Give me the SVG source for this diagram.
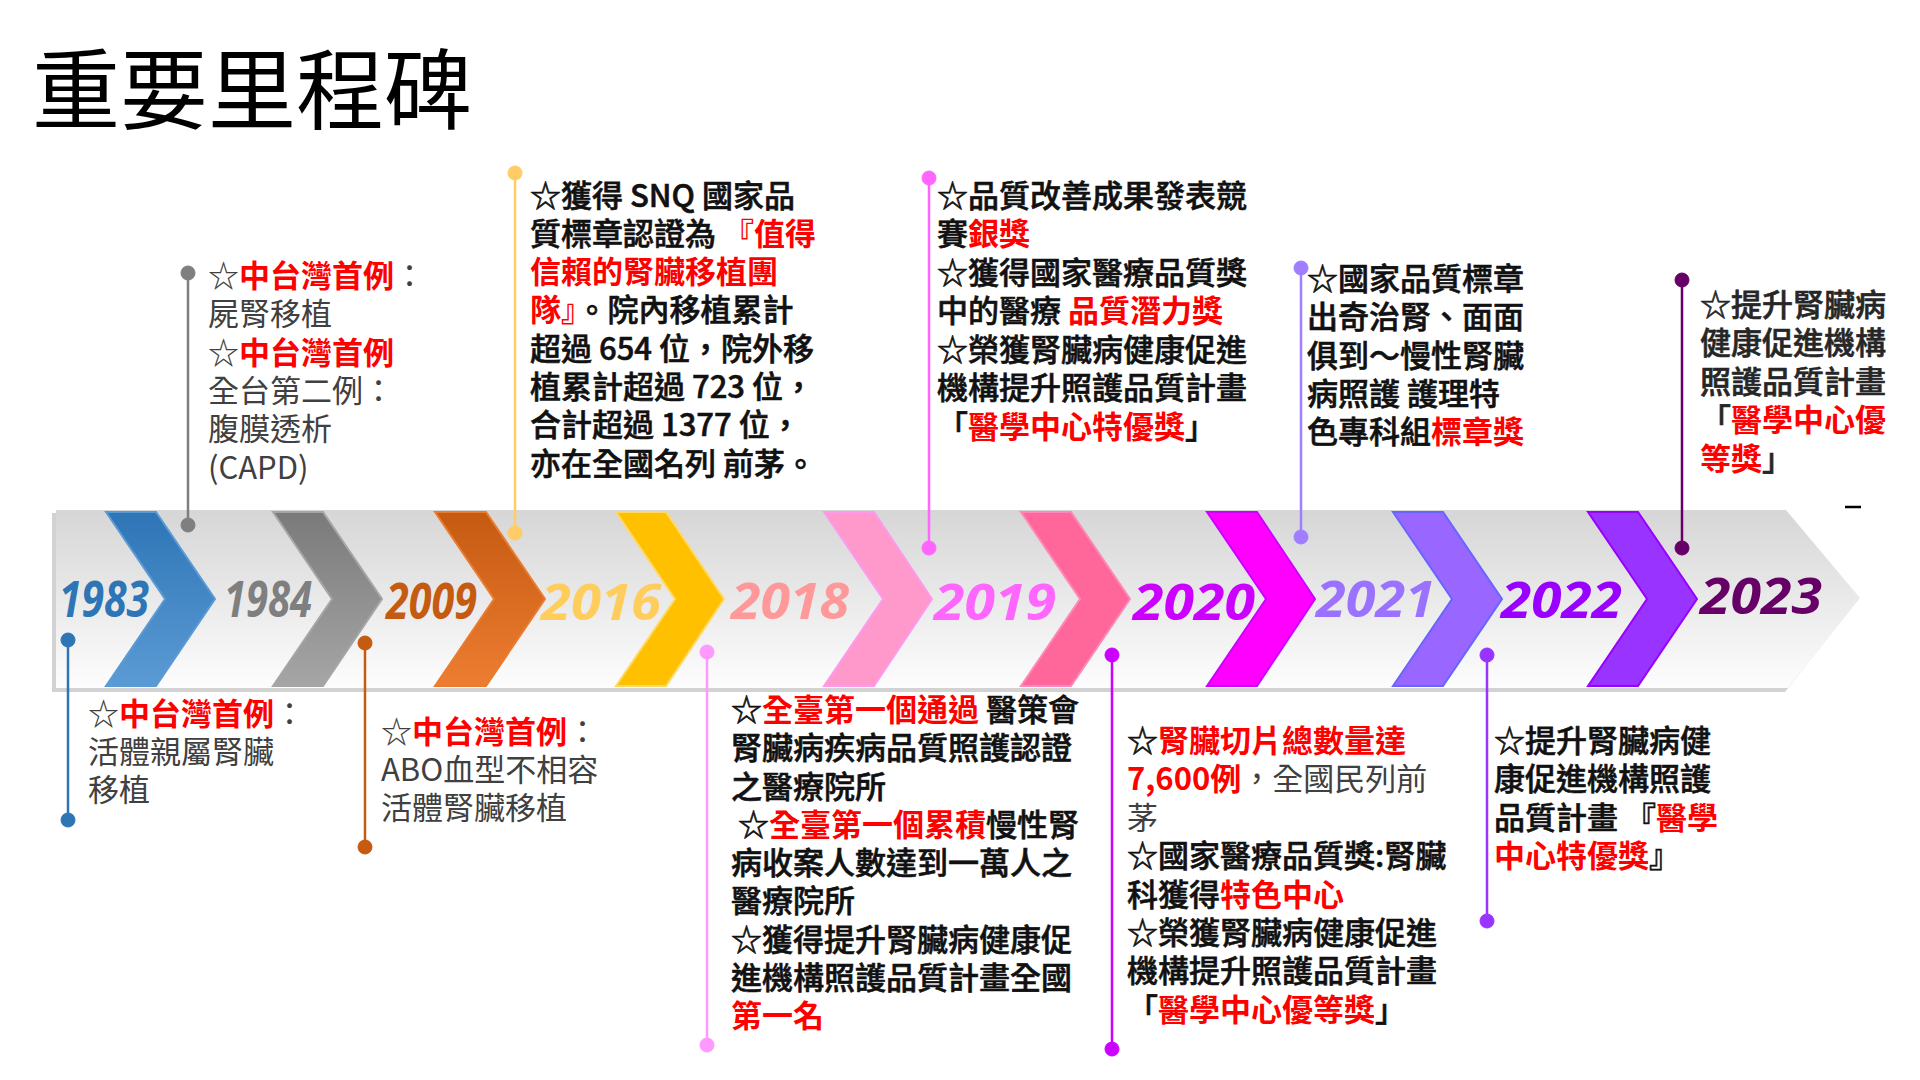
<svg xmlns="http://www.w3.org/2000/svg" width="1920" height="1080" viewBox="0 0 1920 1080" xml:lang="zh-TW">
<defs>
<style>
.title{font-family:"Noto Sans CJK TC","Noto Sans CJK SC",sans-serif;font-size:88px;fill:#000}
.t{font-family:"Noto Sans CJK TC","Noto Sans CJK SC",sans-serif;font-size:31px;fill:#111;font-weight:500;stroke:#111;stroke-width:0.6}
.g{fill:#404040;font-weight:400;stroke:none}
.r{fill:#ff0000;font-weight:700;stroke:none}
.d{fill:#262626;stroke:#262626}
.yr{font-family:"Open Sans","Noto Sans","DejaVu Sans",sans-serif;font-size:50px;font-weight:700;font-style:italic}
.ln{stroke-width:2.5;fill:none}
</style>
<linearGradient id="band" x1="0" y1="0" x2="0" y2="1"><stop offset="0" stop-color="#d6d6d6"/><stop offset="1" stop-color="#fdfdfd"/></linearGradient>
<linearGradient id="cBlue" x1="0" y1="0" x2="0" y2="1"><stop offset="0" stop-color="#2e75b6"/><stop offset="1" stop-color="#5b9bd5"/></linearGradient>
<linearGradient id="cGray" x1="0" y1="0" x2="0" y2="1"><stop offset="0" stop-color="#7a7a7a"/><stop offset="1" stop-color="#a6a6a6"/></linearGradient>
<linearGradient id="cOrange" x1="0" y1="0" x2="0" y2="1"><stop offset="0" stop-color="#c55a11"/><stop offset="1" stop-color="#ed7d31"/></linearGradient>
</defs>
<rect width="1920" height="1080" fill="#fff"/>
<text class="title" x="32" y="122">重要里程碑</text>

<g id="band">
<polygon points="52,513 1783,513 1857,601 1785,692 52,692" fill="#d2d2d2"/>
<polygon points="56,510 1786,510 1860,598 1788,688 56,688" fill="url(#band)"/>
</g>

<g id="connectors">
<g stroke="#2e75b6" fill="#2e75b6"><line class="ln" x1="68" y1="640" x2="68" y2="820"/><circle cx="68" cy="640" r="7"/><circle cx="68" cy="820" r="7"/></g>
<g stroke="#7f7f7f" fill="#7f7f7f"><line class="ln" x1="188" y1="273" x2="188" y2="525"/><circle cx="188" cy="273" r="7"/><circle cx="188" cy="525" r="7"/></g>
<g stroke="#c55a11" fill="#c55a11"><line class="ln" x1="365" y1="643" x2="365" y2="847"/><circle cx="365" cy="643" r="7"/><circle cx="365" cy="847" r="7"/></g>
<g stroke="#ffcc66" fill="#ffcc66"><line class="ln" x1="515" y1="173" x2="515" y2="533"/><circle cx="515" cy="173" r="7"/><circle cx="515" cy="533" r="7"/></g>
<g stroke="#ff99ff" fill="#ff99ff"><line class="ln" x1="707" y1="652" x2="707" y2="1045"/><circle cx="707" cy="652" r="7"/><circle cx="707" cy="1045" r="7"/></g>
<g stroke="#ff66ff" fill="#ff66ff"><line class="ln" x1="929" y1="178" x2="929" y2="548"/><circle cx="929" cy="178" r="7"/><circle cx="929" cy="548" r="7"/></g>
<g stroke="#cc00ff" fill="#cc00ff"><line class="ln" x1="1112" y1="655" x2="1112" y2="1049"/><circle cx="1112" cy="655" r="7"/><circle cx="1112" cy="1049" r="7"/></g>
<g stroke="#9f7fff" fill="#9f7fff"><line class="ln" x1="1301" y1="268" x2="1301" y2="537"/><circle cx="1301" cy="268" r="7"/><circle cx="1301" cy="537" r="7"/></g>
<g stroke="#9933ff" fill="#9933ff"><line class="ln" x1="1487" y1="655" x2="1487" y2="921"/><circle cx="1487" cy="655" r="7"/><circle cx="1487" cy="921" r="7"/></g>
<g stroke="#660066" fill="#660066"><line class="ln" x1="1682" y1="280" x2="1682" y2="548"/><circle cx="1682" cy="280" r="7"/><circle cx="1682" cy="548" r="7"/></g>
</g>

<g id="m1983">
<text class="yr" x="59" y="617" fill="#2e75b6" font-size="42" textLength="90" lengthAdjust="spacingAndGlyphs">1983</text>
<polygon points="106,512 156,512 215,599 156,686 106,686 165,599" fill="url(#cBlue)" stroke="#5b9bd5" stroke-width="2"/>
<g class="t g">
<text x="88" y="725"><tspan>☆</tspan><tspan class="r">中台灣首例</tspan><tspan>：</tspan></text>
<text x="88" y="763">活體親屬腎臟</text>
<text x="88" y="801">移植</text>
</g>
</g>

<g id="m1984">
<text class="yr" x="224" y="617" fill="#7f7f7f" font-size="42" font-weight="600" textLength="88" lengthAdjust="spacingAndGlyphs">1984</text>
<polygon points="273,512 323,512 382,599 323,686 273,686 332,599" fill="url(#cGray)" stroke="#a6a6a6" stroke-width="2"/>
<g class="t g">
<text x="208" y="287"><tspan>☆</tspan><tspan class="r">中台灣首例</tspan><tspan>：</tspan></text>
<text x="208" y="325">屍腎移植</text>
<text x="208" y="364"><tspan>☆</tspan><tspan class="r">中台灣首例</tspan></text>
<text x="208" y="402">全台第二例：</text>
<text x="208" y="440">腹膜透析</text>
<text x="208" y="479">(CAPD)</text>
</g>
</g>

<g id="m2009">
<text class="yr" x="386" y="619" fill="#c55a11" font-size="42" textLength="91" lengthAdjust="spacingAndGlyphs">2009</text>
<polygon points="435,512 486,512 545,599 486,686 435,686 494,599" fill="url(#cOrange)" stroke="#e97c30" stroke-width="2"/>
<g class="t g">
<text x="381" y="743"><tspan>☆</tspan><tspan class="r">中台灣首例</tspan><tspan>：</tspan></text>
<text x="381" y="781">ABO血型不相容</text>
<text x="381" y="819">活體腎臟移植</text>
</g>
</g>

<g id="m2016">
<text class="yr" x="541" y="620" fill="#ffcd5c" textLength="120" lengthAdjust="spacingAndGlyphs">2016</text>
<polygon points="616,512 666,512 724,599 666,686 616,686 675,599" fill="#ffc000" stroke="#ffd966" stroke-width="2"/>
<g class="t">
<text x="530" y="207">☆獲得 SNQ 國家品</text>
<text x="530" y="245"><tspan>質標章認證為 </tspan><tspan class="r">『值得</tspan></text>
<text x="530" y="283" class="r">信賴的腎臟移植團</text>
<text x="530" y="321"><tspan class="r">隊』</tspan><tspan>。院內移植累計</tspan></text>
<text x="530" y="360">超過 654 位，院外移</text>
<text x="530" y="398">植累計超過 723 位，</text>
<text x="530" y="436">合計超過 1377 位，</text>
<text x="530" y="475">亦在全國名列 前茅。</text>
</g>
</g>

<g id="m2018">
<text class="yr" x="731" y="619" fill="#ff9999" textLength="118" lengthAdjust="spacingAndGlyphs">2018</text>
<polygon points="824,512 874,512 932,599 874,686 824,686 883,599" fill="#ff99cc" stroke="#ff99ee" stroke-width="2"/>
<g class="t">
<text x="731" y="721"><tspan>☆</tspan><tspan class="r">全臺第一個通過</tspan><tspan> 醫策會</tspan></text>
<text x="731" y="759">腎臟病疾病品質照護認證</text>
<text x="731" y="798">之醫療院所</text>
<text x="738" y="836"><tspan>☆</tspan><tspan class="r">全臺第一個累積</tspan><tspan>慢性腎</tspan></text>
<text x="731" y="874">病收案人數達到一萬人之</text>
<text x="731" y="912">醫療院所</text>
<text x="731" y="951">☆獲得提升腎臟病健康促</text>
<text x="731" y="989">進機構照護品質計畫全國</text>
<text x="731" y="1027" class="r">第一名</text>
</g>
</g>

<g id="m2019">
<text class="yr" x="934" y="620" fill="#ff66ff" textLength="122" lengthAdjust="spacingAndGlyphs">2019</text>
<polygon points="1021,512 1071,512 1130,599 1071,686 1021,686 1080,599" fill="#ff6699" stroke="#ff88bb" stroke-width="2"/>
<g class="t">
<text x="937" y="207">☆品質改善成果發表競</text>
<text x="937" y="245"><tspan>賽</tspan><tspan class="r">銀獎</tspan></text>
<text x="937" y="284">☆獲得國家醫療品質獎</text>
<text x="937" y="322"><tspan>中的醫療 </tspan><tspan class="r">品質潛力獎</tspan></text>
<text x="937" y="361">☆榮獲腎臟病健康促進</text>
<text x="937" y="399">機構提升照護品質計畫</text>
<text x="937" y="438"><tspan>「</tspan><tspan class="r">醫學中心特優獎</tspan><tspan>」</tspan></text>
</g>
</g>

<g id="m2020">
<text class="yr" x="1133" y="620" fill="#cc00ff" textLength="122" lengthAdjust="spacingAndGlyphs">2020</text>
<polygon points="1207,512 1257,512 1315,599 1257,686 1207,686 1266,599" fill="#ff00ff" stroke="#cc00ff" stroke-width="2"/>
<g class="t">
<text x="1127" y="752"><tspan>☆</tspan><tspan class="r">腎臟切片總數量達</tspan></text>
<text x="1127" y="790"><tspan class="r">7,600例</tspan><tspan class="g">，全國民列前</tspan></text>
<text x="1127" y="829" class="g">茅</text>
<text x="1127" y="867">☆國家醫療品質獎:腎臟</text>
<text x="1127" y="906"><tspan>科獲得</tspan><tspan class="r">特色中心</tspan></text>
<text x="1127" y="944">☆榮獲腎臟病健康促進</text>
<text x="1127" y="982">機構提升照護品質計畫</text>
<text x="1127" y="1021"><tspan>「</tspan><tspan class="r">醫學中心優等獎</tspan><tspan>」</tspan></text>
</g>
</g>

<g id="m2021">
<text class="yr" x="1316" y="617" fill="#9b72ff" textLength="119" lengthAdjust="spacingAndGlyphs">2021</text>
<polygon points="1393,512 1443,512 1502,599 1443,686 1393,686 1452,599" fill="#9966ff" stroke="#6666ff" stroke-width="2"/>
<g class="t">
<text x="1307" y="290">☆國家品質標章</text>
<text x="1307" y="328">出奇治腎、面面</text>
<text x="1307" y="367">俱到～慢性腎臟</text>
<text x="1307" y="405">病照護 護理特</text>
<text x="1307" y="443"><tspan>色專科組</tspan><tspan class="r">標章獎</tspan></text>
</g>
</g>

<g id="m2022">
<text class="yr" x="1501" y="618" fill="#9900ff" textLength="121" lengthAdjust="spacingAndGlyphs">2022</text>
<polygon points="1588,512 1638,512 1697,599 1638,686 1588,686 1647,599" fill="#9933ff" stroke="#9900ff" stroke-width="2"/>
<g class="t">
<text x="1494" y="752">☆提升腎臟病健</text>
<text x="1494" y="790">康促進機構照護</text>
<text x="1494" y="829"><tspan>品質計畫 『</tspan><tspan class="r">醫學</tspan></text>
<text x="1494" y="867"><tspan class="r">中心特優獎</tspan><tspan>』</tspan></text>
</g>
</g>

<g id="m2023">
<text class="yr" x="1700" y="614" fill="#660066" textLength="122" lengthAdjust="spacingAndGlyphs">2023</text>
<g class="t d">
<text x="1700" y="316">☆提升腎臟病</text>
<text x="1700" y="354">健康促進機構</text>
<text x="1700" y="393">照護品質計畫</text>
<text x="1700" y="431"><tspan>「</tspan><tspan class="r">醫學中心優</tspan></text>
<text x="1700" y="470"><tspan class="r">等獎</tspan><tspan>」</tspan></text>
</g>
</g>

<line x1="1845" y1="507" x2="1861" y2="507" stroke="#000" stroke-width="2.5"/>
</svg>
